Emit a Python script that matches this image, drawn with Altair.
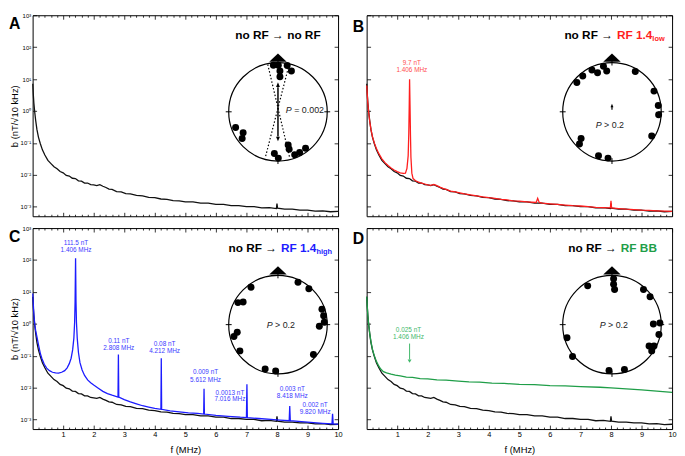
import altair as alt
import pandas as pd

FONT = "Liberation Sans"
RED, BLUE, GREEN = "#ff1e1e", "#1c1cff", "#1f9e48"
RED_T, BLUE_T, GREEN_T = "#ff5050", "#3a3aff", "#40b86a"

# ---------------- spectra (f in MHz, e = log10 of b in nT) ----------------
black_f = [0.005, 0.02, 0.04, 0.07, 0.10, 0.14, 0.19, 0.25, 0.32, 0.40,
           0.50, 0.60, 0.70, 0.80, 0.90, 1.00, 1.10, 1.20, 1.30, 1.40, 1.50,
           1.60, 1.70, 1.80, 1.90, 2.00, 2.10, 2.20, 2.30, 2.40, 2.50, 2.60,
           2.75, 2.90, 3.05, 3.20, 3.40, 3.60, 3.80, 4.00, 4.20, 4.40, 4.60,
           4.80, 5.00, 5.25, 5.50, 5.75, 6.00, 6.25, 6.50, 6.75, 7.00, 7.25,
           7.50, 7.75, 7.98, 8.00, 8.02, 8.25, 8.50, 8.75, 9.00, 9.25, 9.50,
           9.75, 10.0]
black_e = [0.85, 0.55, 0.25, -0.05, -0.30, -0.58, -0.82, -1.02, -1.22, -1.38,
           -1.55, -1.65, -1.75, -1.81, -1.90, -1.94, -2.02, -2.04, -2.11, -2.12,
           -2.19, -2.20, -2.26, -2.26, -2.31, -2.32, -2.34, -2.31, -2.36, -2.40,
           -2.45, -2.46, -2.53, -2.54, -2.59, -2.60, -2.65, -2.66, -2.71, -2.72,
           -2.76, -2.77, -2.81, -2.82, -2.85, -2.85, -2.89, -2.89, -2.93, -2.93,
           -2.97, -2.97, -3.00, -3.00, -3.04, -3.03, -3.06, -2.90, -3.05, -3.08,
           -3.08, -3.11, -3.11, -3.14, -3.13, -3.16, -3.15]

red_f = [0.005, 0.02, 0.04, 0.07, 0.10, 0.14, 0.19, 0.25, 0.32, 0.40,
         0.50, 0.60, 0.70, 0.80, 0.90, 1.00, 1.10, 1.20,
         1.27, 1.32, 1.36, 1.38, 1.395, 1.406, 1.42, 1.435, 1.45, 1.48, 1.52, 1.60, 1.70,
         1.80, 1.90, 2.00, 2.10, 2.20, 2.30, 2.40, 2.50, 2.60,
         2.75, 2.90, 3.05, 3.20,
         3.40, 3.60, 3.80, 4.00, 4.20, 4.40, 4.60, 4.80, 5.00,
         5.25, 5.55, 5.60, 5.65, 5.75,
         6.00, 6.25, 6.50, 6.75, 7.00, 7.25, 7.50, 7.75,
         7.98, 8.00, 8.02,
         8.25, 8.50, 8.75, 9.00, 9.25, 9.50, 9.75, 10.0]
red_e = [0.80, 0.52, 0.22, -0.08, -0.32, -0.58, -0.80, -1.00, -1.18, -1.34,
         -1.50, -1.62, -1.71, -1.79, -1.85, -1.90, -1.94, -1.96,
         -1.95, -1.80, -1.40, -0.70, 0.20, 0.99, 0.20, -0.75, -1.45, -1.95, -2.12, -2.19, -2.23,
         -2.26, -2.29, -2.32, -2.33, -2.30, -2.34, -2.39, -2.43, -2.46,
         -2.51, -2.54, -2.57, -2.60,
         -2.63, -2.66, -2.69, -2.72, -2.74, -2.77, -2.79, -2.82, -2.83,
         -2.85, -2.87, -2.74, -2.87, -2.89,
         -2.91, -2.93, -2.95, -2.97, -2.98, -3.00, -3.02, -3.03,
         -3.04, -2.82, -3.04,
         -3.06, -3.08, -3.09, -3.11, -3.12, -3.13, -3.14, -3.15]

blue_f = [0.005, 0.02, 0.04, 0.07, 0.10, 0.14, 0.19, 0.25, 0.30, 0.38,
          0.46, 0.55, 0.65, 0.75, 0.85, 0.95, 1.05, 1.13, 1.20, 1.26,
          1.31, 1.35, 1.375, 1.39, 1.406, 1.42, 1.435, 1.46, 1.50, 1.55,
          1.62, 1.70, 1.80, 1.90, 2.00, 2.15, 2.30, 2.45, 2.60, 2.795,
          2.808, 2.821, 3.00, 3.20, 3.40, 3.60, 3.80, 4.00, 4.20, 4.212,
          4.224, 4.50, 4.80, 5.10, 5.40, 5.60, 5.612, 5.624, 6.00, 6.40,
          6.80, 7.00, 7.016, 7.03, 7.40, 7.80, 8.10, 8.40, 8.418, 8.436,
          8.80, 9.20, 9.50, 9.80, 9.82, 9.84, 10.0]
blue_e = [0.95, 0.65, 0.30, -0.02, -0.22, -0.40, -0.65, -0.92, -1.08, -1.27,
          -1.39, -1.47, -1.52, -1.54, -1.55, -1.52, -1.47, -1.38, -1.25, -1.08,
          -0.82, -0.45, 0.05, 0.70, 2.05, 0.70, 0.05, -0.45, -0.90, -1.22,
          -1.45, -1.62, -1.76, -1.85, -1.92, -2.02, -2.12, -2.19, -2.24, -2.30,
          -0.96, -2.30, -2.38, -2.45, -2.51, -2.57, -2.61, -2.65, -2.68, -1.08,
          -2.68, -2.73, -2.76, -2.79, -2.81, -2.83, -2.04, -2.83, -2.87, -2.90,
          -2.93, -2.94, -1.90, -2.94, -2.97, -3.00, -3.02, -3.04, -2.58, -3.04,
          -3.07, -3.10, -3.12, -3.14, -2.82, -3.14, -3.15]

green_f = [0.005, 0.02, 0.04, 0.07, 0.10, 0.14, 0.19, 0.25, 0.32, 0.40,
           0.46, 0.55, 0.65, 0.80, 0.94, 1.10, 1.30, 1.50, 1.75, 2.00,
           2.30, 2.60, 3.00, 3.35, 3.70, 4.10, 4.50, 5.00, 5.50, 6.00,
           6.50, 7.00, 7.64, 8.00, 8.50, 9.00, 9.50, 10.0]
green_e = [0.85, 0.55, 0.25, -0.05, -0.30, -0.55, -0.80, -1.00, -1.18, -1.33,
           -1.42, -1.50, -1.54, -1.58, -1.61, -1.63, -1.67, -1.68, -1.72, -1.73,
           -1.76, -1.77, -1.80, -1.82, -1.83, -1.86, -1.87, -1.90, -1.91, -1.94,
           -1.95, -1.97, -1.99, -2.01, -2.04, -2.07, -2.11, -2.15]

# peak labels: (f, log10 position, text)
notes_B = [(1.48, 1.51, "9.7 nT"), (1.48, 1.27, "1.406 MHz")]
notes_C = [(1.42, 2.52, "111.5 nT"), (1.42, 2.30, "1.406 MHz"),
           (2.82, -0.54, "0.11 nT"), (2.82, -0.76, "2.808 MHz"),
           (4.32, -0.62, "0.08 nT"), (4.32, -0.87, "4.212 MHz"),
           (5.66, -1.50, "0.009 nT"), (5.66, -1.76, "5.612 MHz"),
           (6.46, -2.17, "0.0013 nT"), (6.46, -2.37, "7.016 MHz"),
           (8.50, -2.05, "0.003 nT"), (8.50, -2.27, "8.418 MHz"),
           (9.25, -2.56, "0.002 nT"), (9.25, -2.78, "9.820 MHz")]
notes_D = [(1.37, -0.21, "0.025 nT"), (1.37, -0.42, "1.406 MHz")]
arrow_D = (1.406, -0.62, -1.12, -1.17)   # f, shaft top, shaft bottom, head

# ---------------- circular plots (unit circle coordinates) ----------------
dots_A = [(-0.093, 0.947), (0.007, 0.947), (0.187, 0.94), (0.04, 0.827), (0.04, 0.713),
          (0.273, 0.827), (-0.86, -0.32), (-0.707, -0.427), (-0.727, -0.54),
          (-0.073, -0.847), (0.007, -0.94), (0.207, -0.673), (0.227, -0.76),
          (0.34, -0.873), (0.44, -0.827), (0.56, -0.74)]
dots_B = [(-0.173, 0.927), (-0.107, 0.827), (-0.293, 0.793), (-0.407, 0.847),
          (-0.593, 0.727), (-0.713, 0.593), (0.473, 0.82), (0.853, 0.42),
          (0.94, 0.127), (0.947, -0.06), (0.807, -0.493), (-0.627, -0.54),
          (-0.66, -0.653), (-0.273, -0.893), (-0.08, -0.94)]
dots_C = [(-0.547, 0.76), (0.407, 0.86), (0.627, 0.727), (0.893, 0.313), (0.927, 0.18),
          (0.94, 0.047), (0.84, -0.033), (-0.813, 0.447), (-0.707, 0.46),
          (-0.827, -0.153), (-0.893, -0.24), (-0.773, -0.533), (0.72, -0.607),
          (-0.26, -0.9), (-0.047, -0.94)]
dots_D = [(0.033, 0.933), (0.033, 0.82), (0.053, 0.713), (-0.493, 0.787), (0.64, 0.713),
          (0.773, 0.567), (0.84, 0.013), (0.973, 0.033), (0.953, -0.2), (0.753, -0.433),
          (0.853, -0.433), (0.807, -0.533), (-0.913, -0.267), (-0.8, -0.647),
          (-0.06, -0.933), (0.253, -0.913)]
cone_A = [(-0.207, 0.96, 0.24, -0.94), (0.227, 0.96, -0.26, -0.94)]
axial_A = (0.0, -0.5, 0.5, 0.54)      # x, shaft bottom, shaft top, head offset
mean_B = (0.0, 0.04, 0.12, 0.12)      # x, shaft bottom, shaft top, head centre
p_text = {"A": (0.16, 0.04, "= 0.002"), "B": (-0.33, -0.27, "> 0.2"),
          "C": (-0.23, 0.0, "> 0.2"), "D": (-0.25, 0.0, "> 0.2")}

# ---------------- scales ----------------
W, H = 310, 204
Y_LO, Y_HI = 5e-4, 1e3
XS = alt.Scale(domain=[0, 10], nice=False, zero=False)
YS = alt.Scale(type="log", domain=[Y_LO, Y_HI], nice=False)
CXS = alt.Scale(domain=[-4.98, 1.22], nice=False, zero=False)
CYS = alt.Scale(domain=[-2.12, 1.96], nice=False, zero=False)

X_MAJOR = list(range(1, 11))
X_MINOR = [round(0.2 * i, 1) for i in range(1, 50) if i % 5]
Y_DEC = [1e-3, 1e-2, 1e-1, 1, 10, 100, 1000]
FRAME = pd.DataFrame({"f": [0.0, 10.0], "b": [Y_LO, Y_HI]})
SUP = "'10' + ['\u207b\u00b3','\u207b\u00b2','\u207b\u00b9','\u2070','\u00b9','\u00b2','\u00b3'][round(log(datum.value)/LN10) + 3]"


def spec_df(fs, es):
    return pd.DataFrame({"f": fs, "b": [10 ** e for e in es]})


def FX():
    return alt.X("f:Q", scale=XS, axis=None)


def FY():
    return alt.Y("b:Q", scale=YS, axis=None)


def xaxis(orient, values, size, labels=False, title=None):
    kw = dict(orient=orient, values=values, tickSize=size, offset=-size, domain=False,
              grid=False, labels=labels, tickColor="black", tickWidth=0.8)
    if labels:
        kw.update(labelFont=FONT, labelFontSize=7.5, labelColor="black", labelPadding=2,
                  labelFlush=False, labelOverlap=False)
    if title:
        kw.update(titleFont=FONT, titleFontSize=9.5, titleFontWeight="normal",
                  titleColor="black", titlePadding=6)
    return alt.Chart(FRAME).mark_point(opacity=0, size=1).encode(
        x=alt.X("f:Q", scale=XS, title=title, axis=alt.Axis(**kw)), y=FY())


def yaxis(orient, labels=False, title=None):
    kw = dict(orient=orient, values=Y_DEC, tickSize=4, offset=-4, domain=False,
              grid=False, labels=labels, tickColor="black", tickWidth=0.8)
    if labels:
        kw.update(labelFont=FONT, labelFontSize=6, labelColor="black", labelPadding=2,
                  labelExpr=SUP, labelFlush=False, labelOverlap=False)
    if title:
        kw.update(titleFont=FONT, titleFontSize=9.5, titleFontWeight="normal",
                  titleColor="black", titlePadding=1)
    return alt.Chart(FRAME).mark_point(opacity=0, size=1).encode(
        x=FX(), y=alt.Y("b:Q", scale=YS, title=title, axis=alt.Axis(**kw)))


def line(df, color, sw=1.3):
    return alt.Chart(df).mark_line(color=color, strokeWidth=sw).encode(x=FX(), y=FY())


def notes(rows, color):
    df = pd.DataFrame(rows, columns=["f", "e", "t"])
    df["b"] = [10 ** e for e in df["e"]]
    return alt.Chart(df).mark_text(font=FONT, fontSize=6.5, color=color, align="center",
                                   baseline="middle").encode(x=FX(), y=FY(), text="t:N")


def CX(field="cx"):
    return alt.X(f"{field}:Q", scale=CXS, axis=None)


def CY(field="cy"):
    return alt.Y(f"{field}:Q", scale=CYS, axis=None)


def pts(points):
    return pd.DataFrame(points, columns=["cx", "cy"])


def ctext(x, y, s, **kw):
    df = pd.DataFrame({"cx": [x], "cy": [y], "t": [s]})
    return alt.Chart(df).mark_text(font=FONT, baseline="middle", **kw).encode(
        x=CX(), y=CY(), text="t:N")


def sym(points, shape, size, filled, sw=1.0):
    return alt.Chart(pts(points)).mark_point(shape=shape, size=size, filled=filled,
                                             color="black", strokeWidth=sw, opacity=1).encode(x=CX(), y=CY())


TRI = "M0,-0.47L1,0.47L-1,0.47Z"
HEAD_UP = "M0,-1L0.65,0.6L-0.65,0.6Z"
HEAD_DN = "M0,1L0.65,-0.6L-0.65,-0.6Z"


def circle_layers(dots, letter, extras):
    px, py, ptxt = p_text[letter]
    layers = [
        sym([(0, 0)], "circle", 10000, False, 1.2),
        sym([(-1, 0), (1, 0)], "M-1,0L1,0", 36, False),
        sym([(0, -1), (0, 1)], "M0,-1L0,1", 36, False),
        alt.Chart(pts(dots)).mark_circle(size=50, color="black", opacity=1).encode(x=CX(), y=CY()),
        sym([(0, 1.10)], TRI, 313, True),
        ctext(px, py, "P", fontSize=9, fontStyle="italic", align="left", color="#222"),
        ctext(px, py, ptxt, fontSize=9, align="left", dx=8.5, color="#222"),
    ]
    return layers + extras


def head_title(divider, colored, color, sub=None):
    out = [ctext(divider, 1.56, "no RF \u2192", fontSize=12, fontWeight="bold", align="right", dx=-2, color="black"),
           ctext(divider, 1.56, colored, fontSize=12, fontWeight="bold", align="left", dx=2, color=color)]
    if sub:
        out.append(ctext(divider, 1.56, sub, fontSize=7.5, fontWeight="bold", align="left", dx=38, dy=4, color=color))
    return out


def panel(letter, dxl, spec_layers, circ, xlab, ylab):
    axes = [xaxis("bottom", X_MAJOR, 4, labels=xlab, title="f (MHz)" if xlab else None),
            xaxis("bottom", X_MINOR, 2), xaxis("top", X_MAJOR, 4), xaxis("top", X_MINOR, 2),
            yaxis("left", labels=ylab, title="b (nT/\u221a10 kHz)" if ylab else None),
            yaxis("right")]
    return alt.layer(*(axes + spec_layers + circ)).resolve_scale(
        x="independent", y="independent").properties(
        width=W, height=H,
        title=alt.TitleParams(text=letter, anchor="start", frame="group", fontSize=16,
                              fontWeight="bold", font=FONT, color="black", dx=dxl, offset=-20))


black = spec_df(black_f, black_e)

# ---- A ----
cone_df = pd.DataFrame(cone_A, columns=["cx", "cy", "cx2", "cy2"])
axA = axial_A
extrasA = [
    alt.Chart(cone_df).mark_rule(color="black", strokeWidth=1.2, strokeDash=[1.5, 2]).encode(
        x=CX(), y=CY(), x2="cx2:Q", y2="cy2:Q"),
    alt.Chart(pd.DataFrame({"cx": [axA[0]], "cy": [axA[1]], "cy2": [axA[2]]})).mark_rule(
        color="black", strokeWidth=1.5).encode(x=CX(), y=CY(), y2="cy2:Q"),
    sym([(axA[0], axA[3])], HEAD_UP, 36, True),
    sym([(axA[0], -axA[3])], HEAD_DN, 36, True),
    ctext(0, 1.56, "no RF \u2192 no RF", fontSize=12, fontWeight="bold", align="center", color="black"),
]
pA = panel("A", -24, [line(black, "#111")], circle_layers(dots_A, "A", extrasA), False, True)

# ---- B ----
mb = mean_B
extrasB = [
    alt.Chart(pd.DataFrame({"cx": [mb[0]], "cy": [mb[1]], "cy2": [mb[2]]})).mark_rule(
        color="black", strokeWidth=1.2).encode(x=CX(), y=CY(), y2="cy2:Q"),
    sym([(mb[0], mb[3])], HEAD_UP, 20, True),
] + head_title(0.06, "RF 1.4", RED, "low")
pB = panel("B", -14, [line(black, "#111"), line(spec_df(red_f, red_e), RED), notes(notes_B, RED_T)],
           circle_layers(dots_B, "B", extrasB), False, False)

# ---- C ----
extrasC = head_title(0.02, "RF 1.4", BLUE, "high")
pC = panel("C", -24, [line(black, "#111"), line(spec_df(blue_f, blue_e), BLUE), notes(notes_C, BLUE_T)],
           circle_layers(dots_C, "C", extrasC), True, True)

# ---- D ----
arr_df = pd.DataFrame({"f": [arrow_D[0]], "b": [10 ** arrow_D[1]], "b2": [10 ** arrow_D[2]]})
head_df = pd.DataFrame({"f": [arrow_D[0]], "b": [10 ** arrow_D[3]]})
arrowD = [
    alt.Chart(arr_df).mark_rule(color=GREEN_T, strokeWidth=1).encode(x=FX(), y=FY(), y2="b2:Q"),
    alt.Chart(head_df).mark_point(shape="triangle-down", size=16, filled=True, color=GREEN_T,
                                  opacity=1).encode(x=FX(), y=FY()),
]
extrasD = head_title(0.14, "RF BB", GREEN)
pD = panel("D", -14, [line(black, "#111"), line(spec_df(green_f, green_e), GREEN), notes(notes_D, GREEN_T)] + arrowD,
           circle_layers(dots_D, "D", extrasD), True, False)

chart = alt.concat(pA, pB, pC, pD, columns=2, spacing={"row": 12, "column": 29},
                   bounds="flush").configure_view(stroke="black", strokeWidth=1).properties(
    background="white", padding=0)

chart.save("out.html", embed_options={"renderer": "svg", "actions": False})
